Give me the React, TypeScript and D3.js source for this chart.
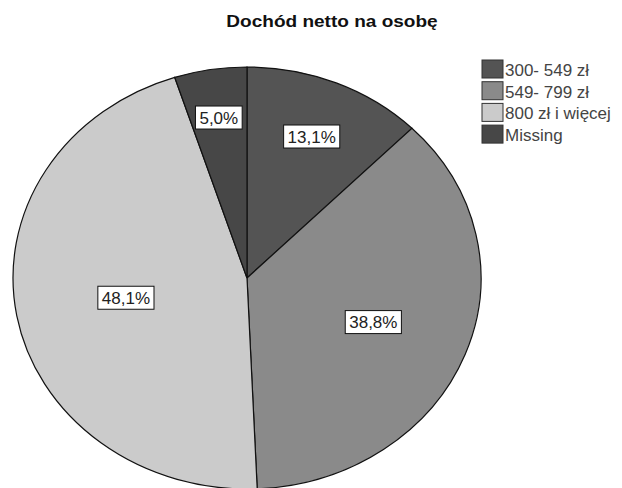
import * as d3 from "d3";

const categories = ["300- 549 zł", "549- 799 zł", "800 zł i więcej", "Missing"];
// share of all cases (missing included), used for slice angles
const sliceValues = [12.45, 36.86, 45.7, 5.0];
// labels as printed (valid percent for the categories)
const sliceLabels = ["13,1%", "38,8%", "48,1%", "5,0%"];
const colors = ["#545454", "#8a8a8a", "#cbcbcb", "#474747"];

const width = 622;
const height = 488;
const cx = 247;
const cy = 278;
const rx = 234;
const ry = 211;

// rough glyph widths at 17px for the box around a label
const labelWidth = (s: string) =>
    s.split("").reduce((w, ch) => w + (ch === "," ? 4.7 : ch === "%" ? 15.1 : 9.45), 0);

const App = () => {
    const pie = d3.pie<number>().sort(null).value((d) => d);
    const arcs = pie(sliceValues);
    const arc = d3.arc<d3.PieArcDatum<number>>().innerRadius(0).outerRadius(rx);
    const total = d3.sum(sliceValues);

    return (
        <svg
            width={width}
            height={height}
            style={{ position: "absolute", left: 0, top: 0, background: "#fff" }}
            fontFamily="'Liberation Sans', Arial, sans-serif"
        >
            <text
                transform="translate(332,27) scale(1.12,1)"
                textAnchor="middle"
                fontWeight="bold"
                fontSize={17}
                fill="#111"
            >
                Dochód netto na osobę
            </text>

            <g transform={`translate(${cx},${cy}) scale(1,${ry / rx})`}>
                {arcs.map((a, i) => (
                    <path
                        key={i}
                        d={arc(a)!}
                        fill={colors[i]}
                        stroke="#111"
                        strokeWidth={1.2}
                        style={{ vectorEffect: "non-scaling-stroke" }}
                    />
                ))}
            </g>

            {arcs.map((a, i) => {
                const mid = (a.startAngle + a.endAngle) / 2;
                const share = a.value / total;
                const r = 0.8 - 0.6 * share;
                const x = cx + Math.sin(mid) * r * rx;
                const y = cy - Math.cos(mid) * r * ry;
                const w = labelWidth(sliceLabels[i]) + 8;
                const h = 23;
                return (
                    <g key={i}>
                        <rect
                            x={x - w / 2}
                            y={y - h / 2}
                            width={w}
                            height={h}
                            fill="#fff"
                            stroke="#111"
                            strokeWidth={1}
                        />
                        <text x={x} y={y + 6} textAnchor="middle" fontSize={17} fill="#222">
                            {sliceLabels[i]}
                        </text>
                    </g>
                );
            })}

            {categories.map((c, i) => (
                <g key={c} transform={`translate(482,${60 + i * 21.7})`}>
                    <rect width={21} height={18} fill={colors[i]} stroke="#333" strokeWidth={1} />
                    <text x={23} y={16} fontSize={17} fill="#444">
                        {c}
                    </text>
                </g>
            ))}
        </svg>
    );
};

export default App;
